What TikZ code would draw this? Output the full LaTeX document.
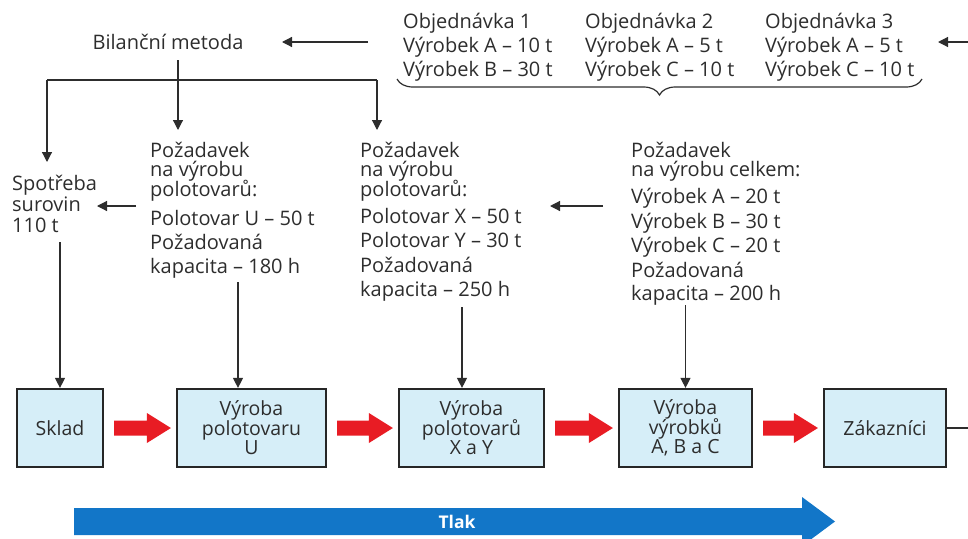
\documentclass[tikz,border=0pt]{standalone}
\usepackage{fontspec}
\setmainfont{Open Sans}
\usetikzlibrary{arrows.meta,calc,decorations.pathreplacing}
\definecolor{ink}{RGB}{45,45,45}
\definecolor{boxfill}{RGB}{214,238,248}
\definecolor{pushred}{RGB}{232,28,36}
\definecolor{pullblue}{RGB}{18,118,200}
% fixed line pitch, never padded by \lineskip
\newcommand\tightlines{\lineskiplimit=-30pt\relax\lineskip=0pt\relax}
% red block arrow between two stages
\newcommand\pushto[2]{%
  \fill[pushred] let \p1=(#1.east), \p2=(#2.west) in
    (\x1+10pt,\y1-7.5pt) -- (\x2-29pt,\y1-7.5pt) -- (\x2-29pt,\y1-15pt) --
    (\x2-5pt,\y1) -- (\x2-29pt,\y1+15pt) -- (\x2-29pt,\y1+7.5pt) --
    (\x1+10pt,\y1+7.5pt) -- cycle;}
\begin{document}
\begin{tikzpicture}[x=1pt,y=-1pt,
  txt/.style={inner sep=0pt, text=ink, align=left, anchor=north west,
    font=\fontsize{20}{24.5}\selectfont\tightlines},
  stage/.style={draw=black!85, line width=2.2pt, fill=boxfill, text=ink,
    align=center, inner sep=0pt, minimum height=78pt,
    font=\fontsize{19.5}{19.5}\selectfont\tightlines},
  conn/.style={draw=ink, line width=1.2pt, -{Triangle[length=10pt,width=10pt]}},
  plain/.style={draw=ink, line width=1.2pt},
]
\useasboundingbox (0,0) rectangle (968,538);
\clip (0,0) rectangle (968,538);

% orders
\node[txt] (o1) at (403,12.5) {Objednávka 1\\[-0.5pt]Výrobek A – 10 t\\[-0.5pt]Výrobek B – 30 t};
\node[txt] (o2) at (585,12.5) {Objednávka 2\\[-0.5pt]Výrobek A – 5 t\\[-0.5pt]Výrobek C – 10 t};
\node[txt] (o3) at (765,12.5) {Objednávka 3\\[-0.5pt]Výrobek A – 5 t\\[-0.5pt]Výrobek C – 10 t};
\draw[plain, decorate, decoration={brace, mirror, amplitude=16pt}] (397,79) -- (922,79);

\node[txt, anchor=center] (bil) at (168,42) {Bilanční metoda};

% requirements
\node[txt] (sp) at (12,175) {Spotřeba\\[-3.5pt]surovin\\[-3.5pt]110 t};
\node[txt] (p1) at (150,141.5) {Požadavek\\[-5pt]na výrobu\\[-5pt]polotovarů:\\[4.5pt]Polotovar U – 50 t\\Požadovaná\\[-1pt]kapacita – 180 h};
\node[txt] (p2) at (360,141.5) {Požadavek\\[-5pt]na výrobu\\[-5pt]polotovarů:\\[2.5pt]Polotovar X – 50 t\\Polotovar Y – 30 t\\Požadovaná\\[-0.5pt]kapacita – 250 h};
\node[txt] (p3) at (631,141.5) {Požadavek\\[-5pt]na výrobu celkem:\\[2.5pt]Výrobek A – 20 t\\Výrobek B – 30 t\\Výrobek C – 20 t\\Požadovaná\\[-1pt]kapacita – 200 h};

% stages
\node[stage, minimum width=86pt] (sklad) at (60,428) {Sklad};
\node[stage, minimum width=149pt] (vU) at (251.5,428) {Výroba\\polotovaru\\U};
\node[stage, minimum width=145pt] (vXY) at (471.5,428) {Výroba\\polotovarů\\X a Y};
\node[stage, minimum width=133pt] (vABC) at (685.5,428) {Výroba\\výrobků\\A, B a C};
\node[stage, minimum width=122pt] (zak) at (885,428) {Zákazníci};

\pushto{sklad}{vU}
\pushto{vU}{vXY}
\pushto{vXY}{vABC}
\pushto{vABC}{zak}

% push arrow
\fill[pullblue] (74,508) -- (802,508) -- (802,497) -- (835,521.5) -- (802,546) -- (802,535) -- (74,535) -- cycle;
\node[text=white, font=\fontsize{17.5}{17.5}\selectfont\bfseries, inner sep=0pt] (tlak) at (457,522) {Tlak};

% information flow
\coordinate (ordIn) at (938,42);
\coordinate (bilOut) at (178,60);
\coordinate (split) at (377,80);
\coordinate (spIn) at (47,162);
\coordinate (p1In) at (178,130);
\coordinate (p2In) at (377,130);
\draw[conn] (zak.east) -- (990,428) |- (ordIn);
\draw[conn] ([xshift=-35pt]o1.west |- bil.east) -- (282,42);
\draw[conn] (bilOut) -- (p1In);
\draw[plain] (spIn |- split) -- (split);
\draw[conn] (spIn |- split) -- (spIn);
\draw[conn] (split) -- (p2In);
\draw[conn] (136,206) -- (97,206);
\draw[conn] (603,206) -- (550,206);
\draw[conn] (sklad.north |- 0,242) -- (sklad.north);
\draw[conn] (238,282) -- (vU.north -| 238,0);
\draw[conn] (462,307) -- (vXY.north -| 462,0);
\draw[conn] (vABC.north |- 0,305) -- (vABC.north);
\end{tikzpicture}
\end{document}
